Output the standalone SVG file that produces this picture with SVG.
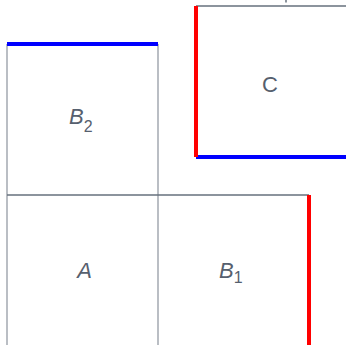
<svg xmlns="http://www.w3.org/2000/svg" width="346" height="345" viewBox="0 0 346 345">
<style>
.v{stroke:#a3a8b0;stroke-width:1.5;fill:none}
.h{stroke:#66707c;stroke-width:1.5;fill:none}
.red{stroke:#ff0000;stroke-width:4;fill:none}
.blue{stroke:#0000ff;stroke-width:4;fill:none}
.t{font-family:"Liberation Sans",Arial,sans-serif;fill:#56606e}
</style>
<rect width="346" height="345" fill="#ffffff"/>
<g id="connectors">
<line class="h" x1="286" y1="0" x2="286" y2="2.5"/>
</g>
<g id="B2">
<line class="v" x1="7" y1="44" x2="7" y2="195"/>
<line class="v" x1="158" y1="44" x2="158" y2="195"/>
<line class="blue" x1="7" y1="44" x2="158" y2="44"/>
<text class="t" x="69" y="124" font-size="22" font-style="italic">B<tspan font-size="16" font-style="normal" dy="8">2</tspan></text>
</g>
<g id="C">
<line class="h" x1="196" y1="6" x2="346" y2="6"/>
<line class="blue" x1="196" y1="157" x2="346" y2="157"/>
<line class="red" x1="196" y1="6" x2="196" y2="157"/>
<text class="t" x="262" y="92" font-size="22">C</text>
</g>
<g id="A">
<line class="v" x1="7" y1="195" x2="7" y2="345"/>
<line class="v" x1="158" y1="195" x2="158" y2="345"/>
<line class="h" x1="7" y1="195" x2="158" y2="195"/>
<text class="t" x="84.5" y="278" text-anchor="middle" font-size="22" font-style="italic">A</text>
</g>
<g id="B1">
<line class="h" x1="158" y1="195" x2="309" y2="195"/>
<line class="red" x1="309" y1="195" x2="309" y2="345"/>
<text class="t" x="219" y="278" font-size="22" font-style="italic">B<tspan font-size="16" font-style="normal" dy="5">1</tspan></text>
</g>
</svg>
